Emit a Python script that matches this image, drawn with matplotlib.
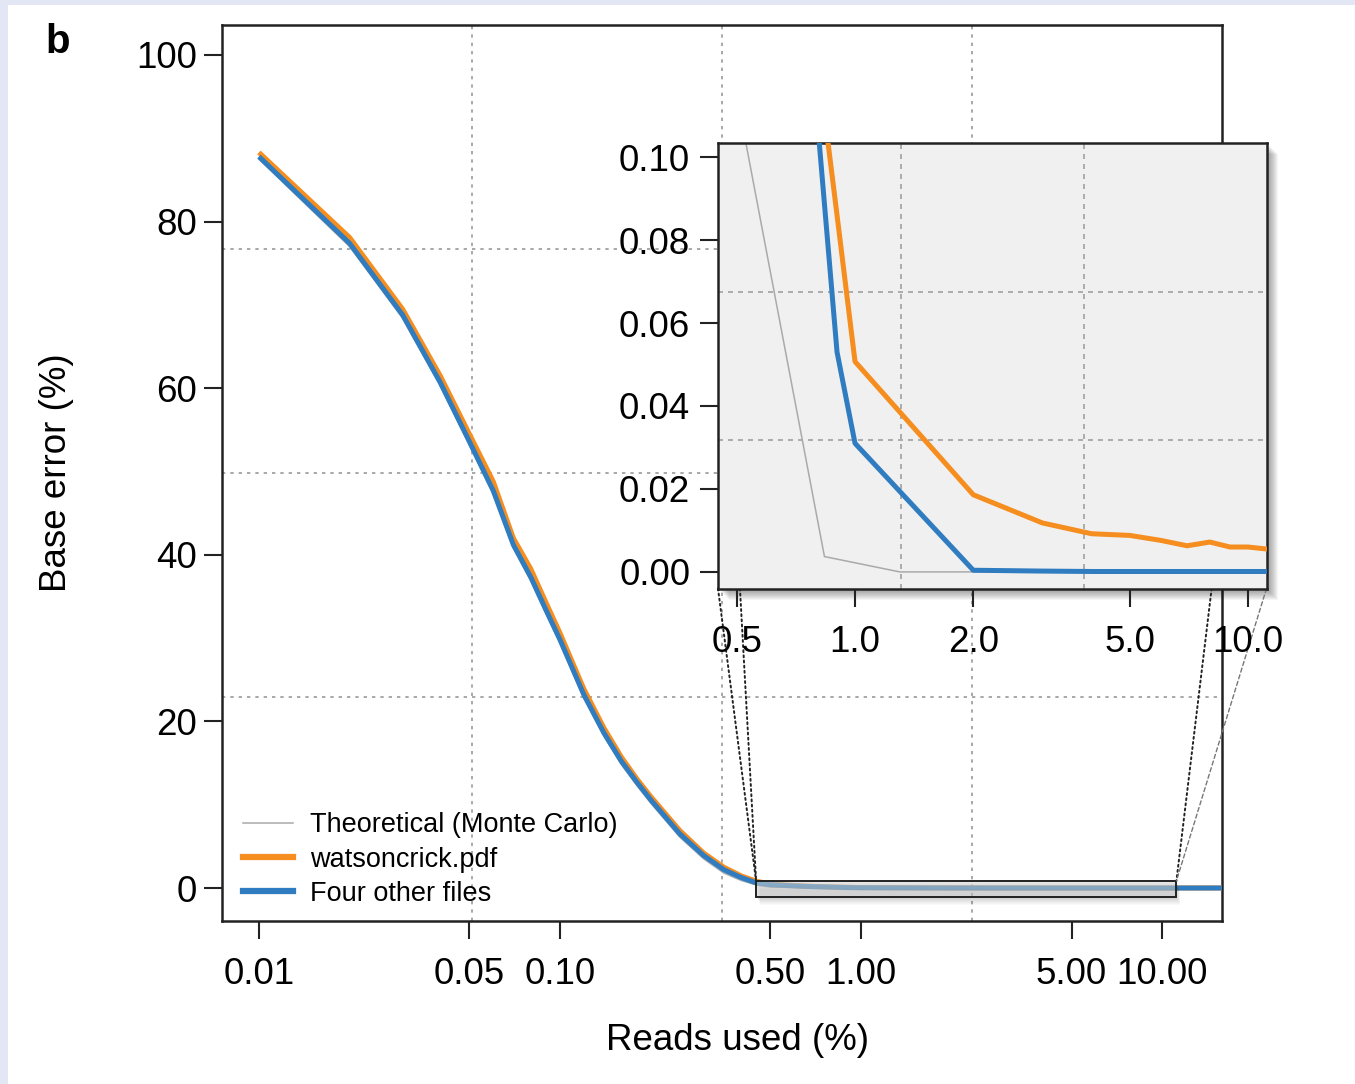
import matplotlib
matplotlib.use("Agg")
import matplotlib.pyplot as plt
from matplotlib.lines import Line2D
from matplotlib.patches import Rectangle, ConnectionPatch
from matplotlib.transforms import offset_copy

plt.rcParams['font.family'] = ['Liberation Sans', 'DejaVu Sans']

# reads used (%) sample points
reads = [0.01, 0.02, 0.03, 0.04, 0.05, 0.06, 0.07, 0.08, 0.09, 0.10,
         0.12, 0.14, 0.16, 0.18, 0.20, 0.25, 0.30, 0.35, 0.40, 0.45,
         0.50, 0.60, 0.70, 0.80, 0.90, 1.0, 2.0, 3.0, 4.0, 5.0,
         6.0, 7.0, 8.0, 9.0, 10.0, 12.0, 16.0]

# base error (%) - watsoncrick.pdf
err_watson = [88.3, 78.1, 69.5, 61.5, 54.5, 48.8, 42.0, 38.3, 34.2, 30.6,
              23.9, 19.2, 15.7, 13.1, 11.0, 6.9, 4.2, 2.5, 1.45, 0.8,
              0.5, 0.3, 0.19, 0.125, 0.086, 0.0507, 0.0186, 0.0118, 0.0092, 0.0088,
              0.0076, 0.0063, 0.0072, 0.0060, 0.0060, 0.0052, 0.0045]

# base error (%) - four other files
err_other = [87.8, 77.4, 68.8, 60.7, 53.6, 47.7, 41.2, 37.3, 33.3, 29.8,
             23.2, 18.6, 15.2, 12.7, 10.6, 6.5, 3.9, 2.2, 1.25, 0.6,
             0.40, 0.25, 0.16, 0.11, 0.053, 0.031, 0.0004, 0.0002, 0.0001, 0.0001,
             0.0001, 0.0001, 0.0001, 0.0001, 0.0001, 0.0001, 0.0001]

# theoretical (Monte Carlo)
reads_theory = [0.01, 0.02, 0.03, 0.04, 0.05, 0.06, 0.07, 0.08, 0.09, 0.10,
                0.12, 0.14, 0.16, 0.18, 0.20, 0.25, 0.30, 0.35, 0.40, 0.45,
                0.50, 0.836, 1.3, 2.0, 5.0, 16.0]
err_theory = [87.5, 77.0, 68.4, 60.3, 53.2, 47.3, 40.8, 36.9, 32.9, 29.4,
              22.8, 18.2, 14.8, 12.3, 10.2, 6.1, 3.5, 1.8, 0.9, 0.35,
              0.115, 0.0037, 0.0, 0.0, 0.0, 0.0]

main_xticks = [0.01, 0.05, 0.10, 0.50, 1.00, 5.00, 10.00]
main_xlabels = ['0.01', '0.05', '0.10', '0.50', '1.00', '5.00', '10.00']
main_yticks = [0, 20, 40, 60, 80, 100]
inset_xticks = [0.5, 1.0, 2.0, 5.0, 10.0]
inset_xlabels = ['0.5', '1.0', '2.0', '5.0', '10.0']
inset_yticks = [0.00, 0.02, 0.04, 0.06, 0.08, 0.10]

GRAY = '#aaaaaa'
ORANGE = '#f58d1f'
BLUE = '#2f7dc0'
FRAME = '#222222'
W, H = 1355, 1084

fig = plt.figure(figsize=(W / 100, H / 100), dpi=100)
fig.patch.set_facecolor('#e3e7f5')
fig.add_artist(Rectangle((8 / W, 0), 1, 1 - 5 / H, transform=fig.transFigure,
                         facecolor='white', edgecolor='none', zorder=-10))

# main axes
ax = fig.add_axes([222 / W, 163 / H, 1000 / W, 896 / H])
ax.set_xscale('log')
ax.plot(reads_theory, err_theory, color=GRAY, lw=1.1, zorder=2)
ax.plot(reads, err_watson, color=ORANGE, lw=3.6, zorder=3, solid_capstyle='butt')
ax.plot(reads, err_other, color=BLUE, lw=3.6, zorder=4, solid_capstyle='butt')
ax.set_xlim(0.00754, 15.8)
ax.set_ylim(-3.96, 103.6)

for f in (0.25, 0.5, 0.75):
    ax.plot([f, f], [0, 1], transform=ax.transAxes, color='#9a9a9a', lw=1.2,
            ls=(0, (2, 3)), zorder=1)
    ax.plot([0, 1], [f, f], transform=ax.transAxes, color='#9a9a9a', lw=1.2,
            ls=(0, (2, 3)), zorder=1)

ax.set_xticks(main_xticks)
ax.set_xticklabels(main_xlabels)
ax.minorticks_off()
ax.set_yticks(main_yticks)
ax.tick_params(axis='both', labelsize=26.5, length=13, width=1.5, color=FRAME)
ax.tick_params(axis='x', pad=13)
ax.tick_params(axis='y', pad=5)
for s in ax.spines.values():
    s.set_linewidth(1.8)
    s.set_color(FRAME)

ax.set_xlabel('Reads used (%)', fontsize=26.5, va='center')
ax.xaxis.set_label_coords((737 - 222) / 1000, -(1040 - 921) / 896)
ax.set_ylabel('Base error (%)', fontsize=26.5, va='center')
ax.yaxis.set_label_coords((57 - 222) / 1000, 0.5)

handles = [Line2D([], [], color=GRAY, lw=1.1),
           Line2D([], [], color=ORANGE, lw=4.5),
           Line2D([], [], color=BLUE, lw=4.5)]
labels = ['Theoretical (Monte Carlo)', 'watsoncrick.pdf', 'Four other files']
ax.legend(handles, labels, loc='lower left', bbox_to_anchor=(0.021, 0.016),
          frameon=False, fontsize=19.5, handlelength=1.85, handletextpad=0.63,
          labelspacing=0.3, borderpad=0, borderaxespad=0)

# zoom box on the main axes
ins_xlim = (0.448, 11.15)
box_y = (-1.1, 0.85)
for k in range(1, 9):
    tr = offset_copy(ax.transData, fig=fig, x=0.5 * k, y=-k, units='dots')
    ax.add_patch(Rectangle((ins_xlim[0], box_y[0]), ins_xlim[1] - ins_xlim[0],
                           box_y[1] - box_y[0], transform=tr, facecolor='black',
                           edgecolor='none', alpha=0.025, zorder=4.5))
ax.add_patch(Rectangle((ins_xlim[0], box_y[0]), ins_xlim[1] - ins_xlim[0],
                       box_y[1] - box_y[0], facecolor='#d6d6d6', alpha=0.55,
                       edgecolor='none', zorder=5))
ax.add_patch(Rectangle((ins_xlim[0], box_y[0]), ins_xlim[1] - ins_xlim[0],
                       box_y[1] - box_y[0], facecolor='none', edgecolor=FRAME,
                       lw=1.4, zorder=6))

# inset axes
ins = fig.add_axes([718 / W, (H - 588.5) / H, 548.5 / W, 445.5 / H])
ins.set_zorder(3)
ins.set_facecolor('#f0f0f0')
ins.set_xscale('log')
ins.plot(reads_theory, err_theory, color=GRAY, lw=1.1, zorder=2)
ins.plot(reads, err_watson, color=ORANGE, lw=3.6, zorder=3)
ins.plot(reads, err_other, color=BLUE, lw=3.6, zorder=4)
ins.set_xlim(*ins_xlim)
ins.set_ylim(-0.004, 0.1034)
for f in (1 / 3, 2 / 3):
    ins.plot([f, f], [0, 1], transform=ins.transAxes, color='#a0a0a0', lw=1.2,
             ls=(0, (3, 3)), zorder=1)
    ins.plot([0, 1], [f, f], transform=ins.transAxes, color='#a0a0a0', lw=1.2,
             ls=(0, (3, 3)), zorder=1)
ins.set_xticks(inset_xticks)
ins.set_xticklabels(inset_xlabels)
ins.minorticks_off()
ins.set_yticks(inset_yticks)
ins.set_yticklabels([f'{v:.2f}' for v in inset_yticks])
ins.tick_params(axis='both', labelsize=26.5, length=13, width=1.5, color=FRAME)
ins.tick_params(axis='x', pad=13)
ins.tick_params(axis='y', pad=7)
for s in ins.spines.values():
    s.set_linewidth(1.8)
    s.set_color(FRAME)

# drop shadow of the inset
for k in range(1, 12):
    tr = offset_copy(ins.transAxes, fig=fig, x=k, y=-k, units='dots')
    fig.add_artist(Rectangle((0, 0), 1, 1, transform=tr, facecolor='black',
                             edgecolor='none', alpha=0.04, zorder=2))

# connector lines between inset and zoom box
conns = [((0.0, 0.0), (ins_xlim[0], box_y[1]), ':', FRAME, 1.4),
         ((0.04, 0.0), (ins_xlim[0], box_y[1]), ':', FRAME, 1.4),
         ((0.9, 0.0), (ins_xlim[1], box_y[1]), ':', FRAME, 1.4),
         ((1.0, 0.0), (ins_xlim[1], box_y[1]), (0, (3, 2)), '#777777', 1.0)]
for a, b, ls, c, lw in conns:
    fig.add_artist(ConnectionPatch(xyA=a, coordsA=ins.transAxes, xyB=b,
                                   coordsB=ax.transData, ls=ls, color=c,
                                   lw=lw, zorder=2.5))

fig.text(45 / W, 1 - 53 / H, 'b', fontsize=29, fontweight='bold', va='baseline')

fig.savefig('out.png', dpi=100, facecolor=fig.get_facecolor())
